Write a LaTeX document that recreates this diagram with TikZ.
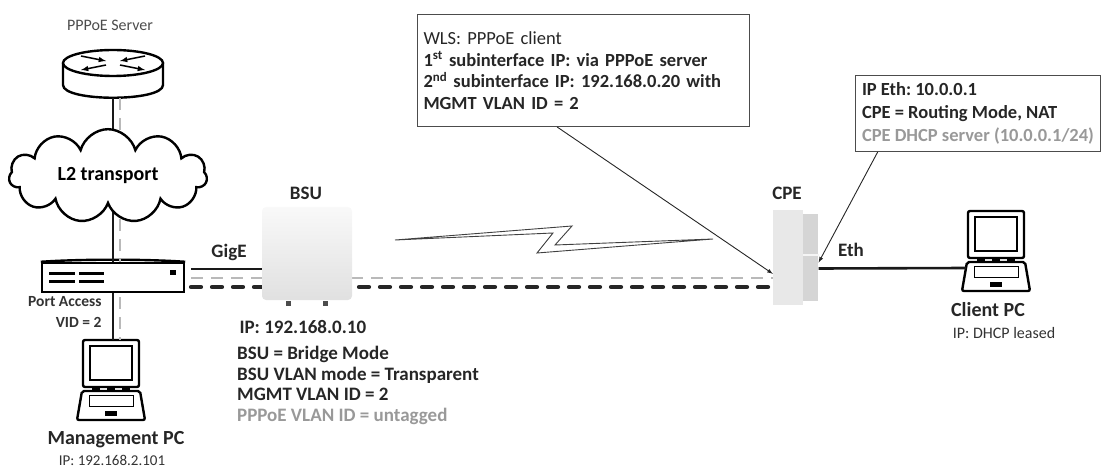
\documentclass[tikz,border=0pt]{standalone}
\usepackage{fontspec}
\setmainfont{Carlito}
\usetikzlibrary{shapes.symbols}
\frenchspacing

\tikzset{
  lien/.style={line width=2.6pt, black!90},
  vlan/.style={line width=2.4pt, gray!55, dash pattern=on 12pt off 8pt},
  mgmt/.style={line width=4.2pt, black!85, dash pattern=on 10pt off 11pt, line cap=round},
  fleche/.style={line width=0.9pt, black!85, -latex},
  gras/.style={font=\fontsize{19}{20.5}\selectfont\bfseries, text=black!85},
  petit/.style={font=\fontsize{16}{18}\selectfont, text=black!80},
  titre/.style={font=\fontsize{20}{22}\selectfont\bfseries, text=black!85},
  bulle/.style={draw=black!70, line width=1pt, anchor=north west, align=left, inner sep=5pt,
    font=\fontsize{18.5}{21.5}\selectfont\bfseries, text=black!85},
  portable/.pic={
    %ecran
    \draw[line width=2.4pt, rounded corners=2pt, fill=white] (-28,-50) rectangle (28,-3);
    \draw[line width=1.4pt] (-21,-44) rectangle (21,-10);
    \foreach \i in {-15,0,15} \fill (\i-4,-4) rectangle (\i+4,1);
    %clavier
    \draw[line width=2.4pt, rounded corners=2pt, fill=white] (-29,1) -- (29,1) -- (34,30) -- (-34,30) -- cycle;
    \draw[line width=0.8pt] (-22,5) rectangle (22,16);
    \fill (-6,21) rectangle (6,26);
    \coordinate (-haut) at (0,-50);
    \coordinate (-port) at (-30,7);
  }
}

\begin{document}
\begin{tikzpicture}[x=1pt,y=-1pt]
\useasboundingbox (0,0) rectangle (1107,470);

%serveur PPPoE
\node[petit, text=black!70] (srv) at (110,25) {PPPoE Server};
\begin{scope}[shift={(113,63)}]
	\draw[line width=2.4pt, fill=white] (-50,0) -- (-50,22) .. controls (-50,39) and (50,39) .. (50,22) -- (50,0);
	\draw[line width=2.4pt, fill=white] (0,0) ellipse[x radius=50, y radius=13];
	\draw[line width=1.5pt, -latex] (-32,-7) -- (-7,-2);
	\draw[line width=1.5pt, -latex] (32,-7) -- (7,-2);
	\draw[line width=1.5pt, -latex] (-7,2) -- (-32,7);
	\draw[line width=1.5pt, -latex] (7,2) -- (32,7);
	\coordinate (rt) at (0,35);
	\coordinate (rtv) at (7,35);
\end{scope}

%commutateur
\node[draw, line width=2.4pt, minimum width=142, minimum height=29, fill=white] (sw) at (113,277.5) {};
\draw[line width=2.4pt] (sw.north west) .. controls (80,259) and (146,259) .. (sw.north east);
\foreach \y in {273,281} {
	\draw[line width=3pt] (49,\y) -- (75,\y);
	\draw[line width=3pt] (79,\y) -- (104,\y);
}
\fill (170,270) rectangle (176,275);
\node[petit, font=\fontsize{15.5}{17}\selectfont\bfseries, anchor=east] (pa) at (105,302) {Port Access};
\node[petit, font=\fontsize{15.5}{17}\selectfont\bfseries, anchor=east] (vid) at (105,322) {VID = 2};

%PC de gestion
\pic (pcm) at (111,390) {portable};
\node[titre] (pcml) at (116,440) {Management PC};
\node[petit, font=\fontsize{15}{17}\selectfont] (pcmip) at (112,460) {IP: 192.168.2.101};

%nuage
\node[cloud, cloud puffs=11, aspect=2.4, minimum width=198, minimum height=86] (nuage) at (108,176) {};
\draw[lien] (rt) -- (rt |- nuage.north);
\draw[vlan, line width=2pt] (rtv) -- (rtv |- nuage.north);
\draw[lien] (rt |- nuage.south) -- (rt |- sw.north);
\draw[vlan, line width=2pt] (rtv |- nuage.south) -- (rtv |- sw.north);
\draw[lien] (rt |- sw.south) -- (rt |- pcm-haut);
\draw[vlan, line width=2pt] ([yshift=-4pt]rtv |- sw.south) -- (rtv |- pcm-haut);
\node[cloud, cloud puffs=11, aspect=2.4, draw, line width=2.4pt, fill=white,
	minimum width=198, minimum height=86, font=\fontsize{20}{22}\selectfont\bfseries] (nuage) at (108,176) {L2 transport};

%CPE
\node[fill=gray!18, minimum width=30, minimum height=95, inner sep=0] (cpe) at (788,257.5) {};
\node[fill=gray!33, minimum width=15, minimum height=86, inner sep=0, anchor=west] (cpecote) at (cpe.east) {};
\draw[gray!8, line width=1.2pt] (cpecote.west |- 0,255) -- (cpecote.east |- 0,255);
\node[gras] (cpel) at (787,193) {CPE};

%liens GigE / radio
\coordinate (g1) at (191,269);
\coordinate (g2) at (191,278);
\coordinate (g3) at (191,287);
\draw[vlan] (g2) -- (g2 -| cpe.west);
\draw[mgmt] (g3) -- ([xshift=-3pt]g3 -| cpe.west);

%BSU
\node[rounded corners=4pt, top color=gray!5, bottom color=gray!24, minimum width=90, minimum height=93] (bsu) at (307,253.5) {};
\draw[lien, line width=2.8pt] (g1) -- (g1 -| bsu.west);
\fill[black!70] (286,301) rectangle (291,306);
\fill[black!70] (323,301) rectangle (328,306);
\node[gras] (bsul) at (306,193) {BSU};
\node[gras] (gige) at (229,252) {GigE};
\node[gras, anchor=west] (bsuip) at (236,327) {IP: 192.168.0.10};
\node[gras, anchor=north west, align=left, inner sep=0] (bsucfg) at (237,346) {BSU = Bridge Mode\\BSU VLAN mode = Transparent\\MGMT VLAN ID = 2\\\textcolor{black!40}{PPPoE VLAN ID = untagged}};

%eclair
\draw[line width=0.9pt, black!75] (395,240) -- (572,226) -- (555,245) -- (713,239) -- (537,253) -- (553,233) -- cycle;

%PC client
\pic (client) at (996,261) {portable};
\draw[lien] ([yshift=-11pt]cpecote.east) -- (client-port);
\node[gras] (ethl) at (851,250) {Eth};
\node[titre] (clientl) at (988,310) {Client PC};
\node[petit] (clientip) at (1004,333) {IP: DHCP leased};

%bulles
\node[bulle, minimum width=332, minimum height=112, text width=320] (wls) at (417,14) {{\mdseries WLS: PPPoE client}\\1\textsuperscript{st} subinterface IP: via PPPoE server\\2\textsuperscript{nd} subinterface IP: 192.168.0.20 with\\MGMT VLAN ID = 2};
\node[bulle, inner sep=4pt, font=\fontsize{18.5}{23}\selectfont\bfseries, minimum width=245, minimum height=76] (cfg) at (855,75) {IP Eth: 10.0.0.1\\CPE = Routing Mode, NAT\\\textcolor{black!40}{CPE DHCP server (10.0.0.1/24)}};
\draw[fleche] (wls.-115) -- (cpe.227);
\draw[fleche] (cfg.201) -- ([yshift=-5pt]cpecote.east);

\end{tikzpicture}
\end{document}
